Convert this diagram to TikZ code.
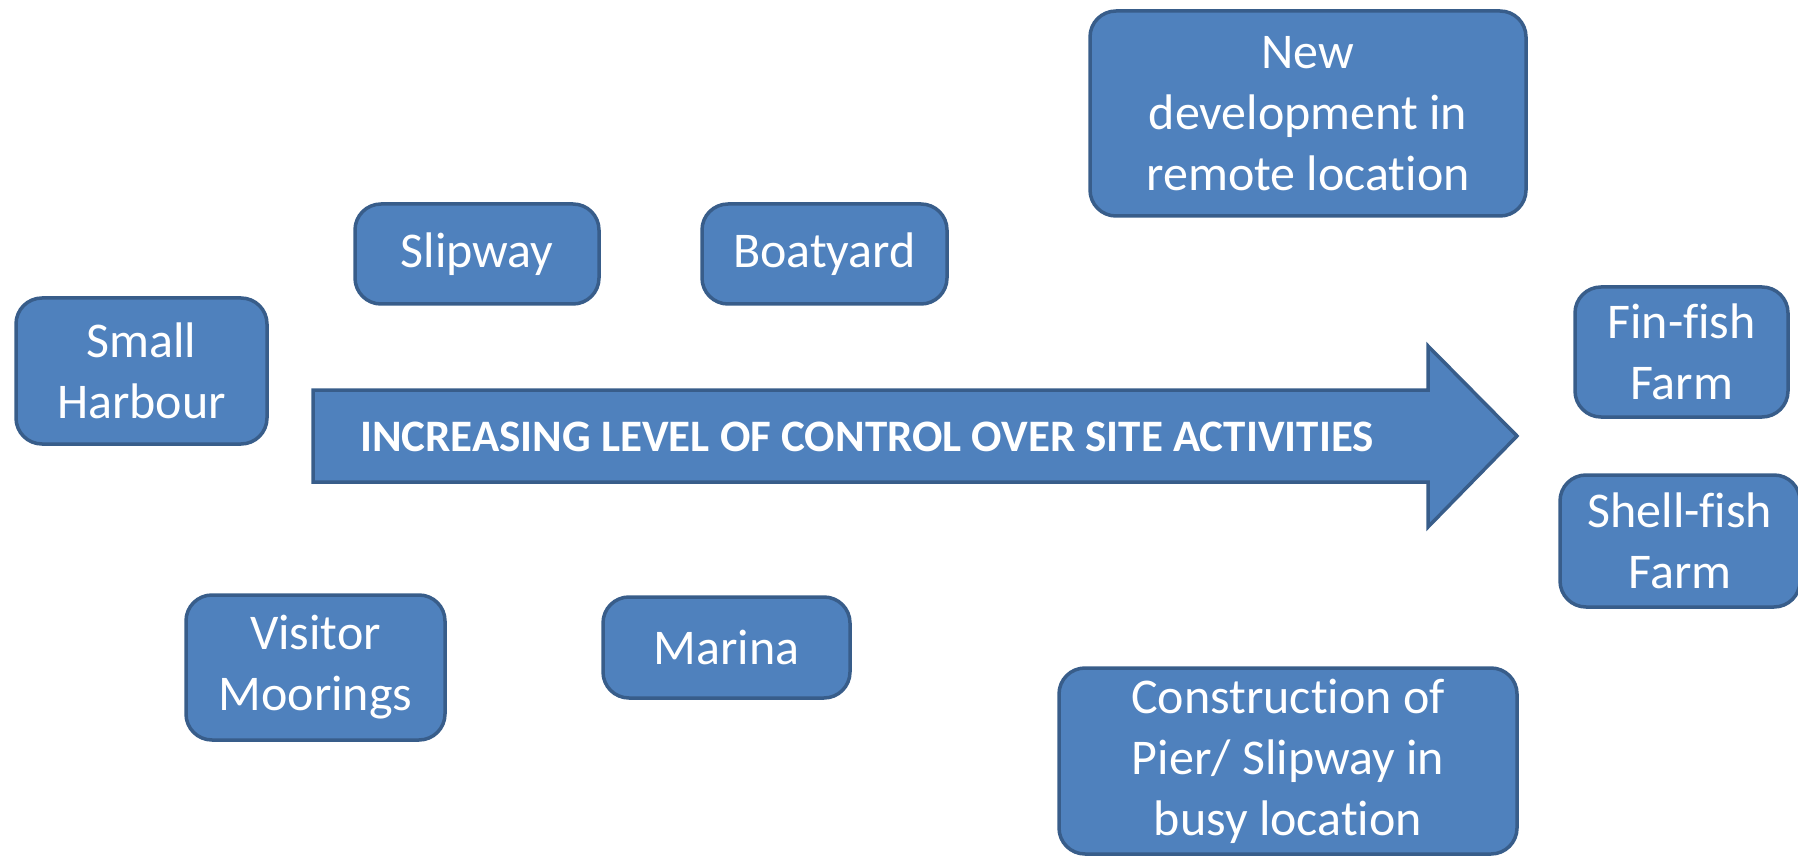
\documentclass[tikz,border=0pt]{standalone}
\usepackage{fontspec}
\setmainfont{Carlito}[Ligatures={NoCommon,NoContextual}]
\definecolor{boxfill}{HTML}{4F81BD}
\definecolor{boxline}{HTML}{385D8A}
\begin{document}
\begin{tikzpicture}[x=1pt,y=-1pt,
  blk/.style={draw=boxline, fill=boxfill, line width=3.5pt, rounded corners=26pt,
    text=white, align=center, inner sep=0pt,
    font=\fontsize{50}{61}\selectfont},
  bigarrow/.style={draw=boxline, fill=boxfill, line width=3.5pt, line join=miter},
  arrowlabel/.style={text=white, inner sep=0pt, font=\fontsize{45}{54}\selectfont\bfseries}]
\path[use as bounding box] (0,0) rectangle (1798,858);

% the wide arrow across the middle
\draw[bigarrow] (313,390) -- (1428,390) -- (1428,346) -- (1517,436)
  -- (1428,527) -- (1428,482) -- (313,482) -- cycle;
\node[arrowlabel] (arrowtext) at (867,437) {INCREASING LEVEL OF CONTROL OVER SITE ACTIVITIES};

% activity boxes
\node[blk, minimum width=251pt, minimum height=146pt] (harbour) at (141.5,371) {Small\\Harbour};
\node[blk, minimum width=244pt, minimum height=100pt] (slipway) at (477,254) {Slipway};
\node[blk, minimum width=245pt, minimum height=100pt] (boatyard) at (824.5,254) {Boatyard};
\node[blk, minimum width=436pt, minimum height=205pt] (newdev) at (1308,113.5) {New\\development in\\remote location};
\node[blk, minimum width=213pt, minimum height=130pt] (finfish) at (1681.5,352) {Fin-fish\\Farm};
\node[blk, minimum width=240pt, minimum height=132pt] (shellfish) at (1680,541) {Shell-fish\\Farm};
\node[blk, minimum width=259pt, minimum height=145pt] (visitor) at (315.5,667.5) {Visitor\\Moorings};
\node[blk, minimum width=247pt, minimum height=101pt] (marina) at (726.5,647.5) {Marina};
\node[blk, minimum width=458pt, minimum height=186pt] (construction) at (1288,761) {Construction of\\Pier/ Slipway in\\busy location};
\end{tikzpicture}
\end{document}
